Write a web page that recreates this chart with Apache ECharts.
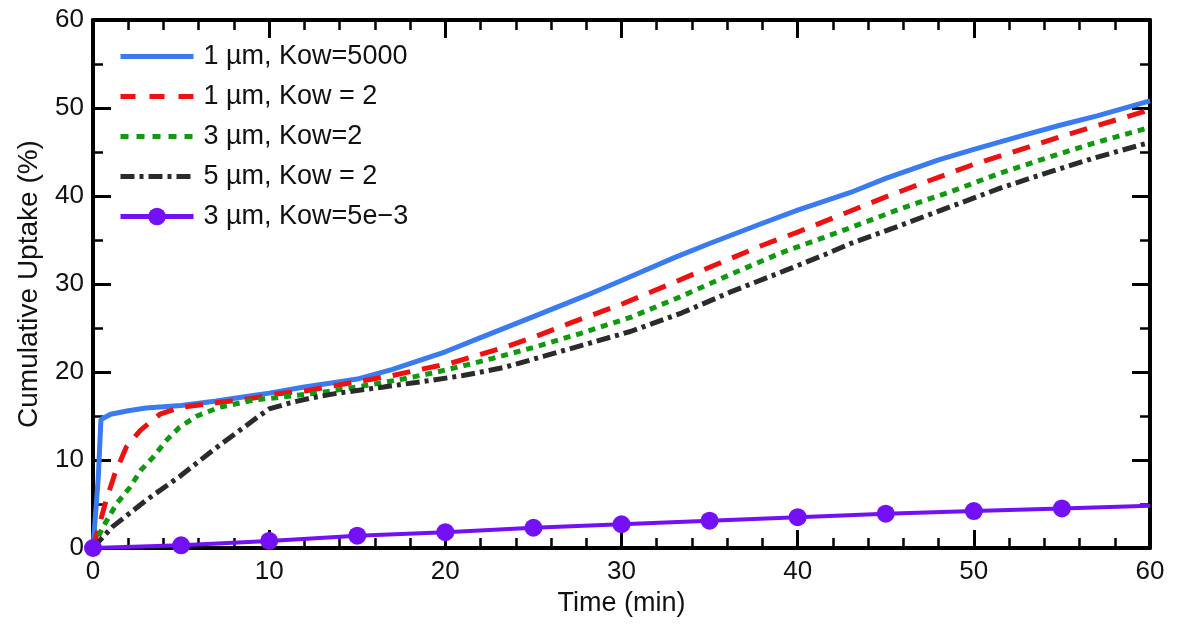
<!DOCTYPE html>
<html><head><meta charset="utf-8">
<script src="https://cdn.jsdelivr.net/npm/echarts@6/dist/echarts.min.js"></script>
<style>html,body{margin:0;padding:0;background:#fff}#c{width:1181px;height:627px}</style>
</head><body><div id="c"></div>
<script>
const seriesNames = ['1 µm, Kow=5000', '1 µm, Kow = 2', '3 µm, Kow=2', '5 µm, Kow = 2', '3 µm, Kow=5e\u22123'];
const xTicks = [0, 10, 20, 30, 40, 50, 60];
const yTicks = [0, 10, 20, 30, 40, 50, 60];

const blueT = [0, 0.3, 0.45, 1, 2, 3, 5, 7, 9, 10, 12, 14, 15, 17, 20, 22, 25, 28, 30, 33, 35, 38, 40, 43, 45, 48, 50, 53, 55, 57, 60];
const blueV = [0, 8, 14.6, 15.2, 15.6, 15.9, 16.2, 16.7, 17.3, 17.6, 18.3, 18.9, 19.2, 20.3, 22.3, 23.9, 26.3, 28.7, 30.4, 33.0, 34.6, 36.9, 38.4, 40.4, 42.0, 44.1, 45.3, 47.0, 48.1, 49.1, 50.8];

const redT = [0, 0.7, 1.25, 1.9, 2.7, 3.8, 5, 7, 9, 10.4, 12.2, 13.6, 15.3, 17, 18.6, 20.3, 22, 23.5, 25.2, 27, 30, 33, 35, 38, 40, 43, 45, 47, 50, 53, 55, 57, 60];
const redV = [0, 5.1, 8.5, 11.5, 13.4, 15.2, 16.0, 16.5, 17.0, 17.5, 17.9, 18.4, 19.0, 19.6, 20.3, 21.0, 22.0, 22.9, 24.1, 25.5, 27.7, 30.2, 31.9, 34.4, 35.9, 38.3, 39.9, 41.4, 43.6, 45.5, 46.8, 48.0, 49.8];

const greenT = [0, 0.57, 1.36, 2.1, 2.7, 3.4, 4.2, 4.9, 5.9, 7.2, 9.1, 10, 12.7, 15.3, 17.6, 19.3, 21, 22.6, 25.2, 27.7, 30.5, 33.4, 36.2, 39, 41.5, 43, 45.9, 48.7, 51.5, 54.4, 56.8, 60];
const greenV = [0, 2.4, 5.1, 6.9, 8.8, 10.3, 12.3, 13.7, 15.0, 16.0, 16.8, 17.0, 17.6, 18.4, 19.2, 19.9, 20.7, 21.5, 22.9, 24.4, 26.2, 28.6, 31.1, 33.5, 35.3, 36.4, 38.6, 40.5, 42.6, 44.5, 46.0, 47.8];

const blackT = [0, 1.1, 3.0, 4.9, 6.8, 8.35, 9.5, 10, 11.2, 12.5, 13.9, 16.5, 19, 21, 23.3, 25.6, 27.7, 30.5, 33.4, 36.2, 39, 41.5, 43, 45.9, 48.7, 51.5, 54.4, 56.8, 60];
const blackV = [0, 2.4, 5.4, 8.1, 11.1, 13.4, 15.1, 15.8, 16.5, 17.1, 17.6, 18.3, 19.0, 19.6, 20.5, 21.8, 23.0, 24.6, 26.7, 29.1, 31.3, 33.3, 34.6, 36.7, 38.8, 40.9, 42.8, 44.3, 46.1];

const purpleT = [0, 5, 10, 15, 20, 25, 30, 35, 40, 45, 50, 55, 60];
const purpleV = [0, 0.3, 0.8, 1.4, 1.8, 2.3, 2.7, 3.1, 3.5, 3.9, 4.2, 4.5, 4.8];

const pairs = (t, v) => t.map((x, i) => [x, v[i]]);
const FONT = 'Liberation Sans, Arial, sans-serif';
const AX = '#000';
const C = { blue: '#3a7bf2', red: '#ee1111', green: '#109a10', black: '#2b2b2b', purple: '#7410f5' };

const baseX = {
  type: 'value', min: 0, max: 60, interval: 10,
  axisLine: { show: true, onZero: false, lineStyle: { color: AX, width: 4 } },
  axisTick: { show: true, inside: true, length: 18, lineStyle: { color: AX, width: 3 } },
  minorTick: { show: true, splitNumber: 5, length: 10, lineStyle: { color: AX, width: 2.5 } },
  splitLine: { show: false }
};
const baseY = {
  type: 'value', min: 0, max: 60, interval: 10,
  axisLine: { show: true, onZero: false, lineStyle: { color: AX, width: 4 } },
  axisTick: { show: true, inside: true, length: 18, lineStyle: { color: AX, width: 3 } },
  minorTick: { show: true, splitNumber: 2, length: 10, lineStyle: { color: AX, width: 2.5 } },
  splitLine: { show: false }
};

const hide = { opacity: 0 };
const chart = echarts.init(document.getElementById('c'), null, { renderer: 'canvas' });
chart.setOption({
  animation: false,
  backgroundColor: '#fff',
  grid: { left: 93, right: 31, top: 20, bottom: 79, outerBoundsMode: 'none' },
  legend: {
    orient: 'vertical', left: 113, top: 38,
    itemWidth: 73, itemHeight: 22, itemGap: 13,
    data: [
      { name: seriesNames[0], itemStyle: hide, lineStyle: { width: 5, color: C.blue, type: 'solid' } },
      { name: seriesNames[1], itemStyle: hide, lineStyle: { width: 5, color: C.red, type: [15, 14] } },
      { name: seriesNames[2], itemStyle: hide, lineStyle: { width: 5, color: C.green, type: [8, 8] } },
      { name: seriesNames[3], itemStyle: hide, lineStyle: { width: 5, color: C.black, type: [14, 5, 4, 5] } },
      { name: seriesNames[4], lineStyle: { width: 5, color: C.purple, type: 'solid' } }
    ],
    textStyle: { fontFamily: FONT, fontSize: 27, color: '#111', padding: [0, 0, 0, 5] }
  },
  xAxis: [
    Object.assign({}, baseX, {
      position: 'bottom',
      name: 'Time (min)', nameLocation: 'middle', nameGap: 41,
      nameTextStyle: { fontFamily: FONT, fontSize: 27, color: '#111' },
      axisLabel: { fontFamily: FONT, fontSize: 26, color: '#111', margin: 11,
        formatter: v => xTicks.includes(v) ? String(v) : '' }
    }),
    Object.assign({}, baseX, { position: 'top', axisLabel: { show: false } })
  ],
  yAxis: [
    Object.assign({}, baseY, {
      position: 'left',
      name: 'Cumulative Uptake (%)', nameLocation: 'middle', nameGap: 50,
      nameTextStyle: { fontFamily: FONT, fontSize: 28, color: '#111' },
      axisLabel: { fontFamily: FONT, fontSize: 26, color: '#111', margin: 9,
        formatter: v => yTicks.includes(v) ? String(v) : '' }
    }),
    Object.assign({}, baseY, { position: 'right', axisLabel: { show: false } })
  ],
  series: [
    { name: seriesNames[0], type: 'line', data: pairs(blueT, blueV), showSymbol: false, symbol: 'none',
      color: C.blue, lineStyle: { width: 5, color: C.blue } },
    { name: seriesNames[1], type: 'line', data: pairs(redT, redV), showSymbol: false, symbol: 'none',
      color: C.red, lineStyle: { width: 5, color: C.red, type: [18, 12] } },
    { name: seriesNames[2], type: 'line', data: pairs(greenT, greenV), showSymbol: false, symbol: 'none',
      color: C.green, lineStyle: { width: 5, color: C.green, type: [7, 6] } },
    { name: seriesNames[3], type: 'line', data: pairs(blackT, blackV), showSymbol: false, symbol: 'none',
      color: C.black, lineStyle: { width: 5, color: C.black, type: [14, 5, 4, 5] } },
    { name: seriesNames[4], type: 'line',
      data: pairs(purpleT, purpleV).map((p, i) => i === purpleT.length - 1 ? { value: p, symbolSize: 0 } : p),
      symbol: 'circle', symbolSize: 18, showSymbol: true,
      color: C.purple, itemStyle: { color: C.purple }, lineStyle: { width: 4, color: C.purple } }
  ]
});
</script></body></html>
